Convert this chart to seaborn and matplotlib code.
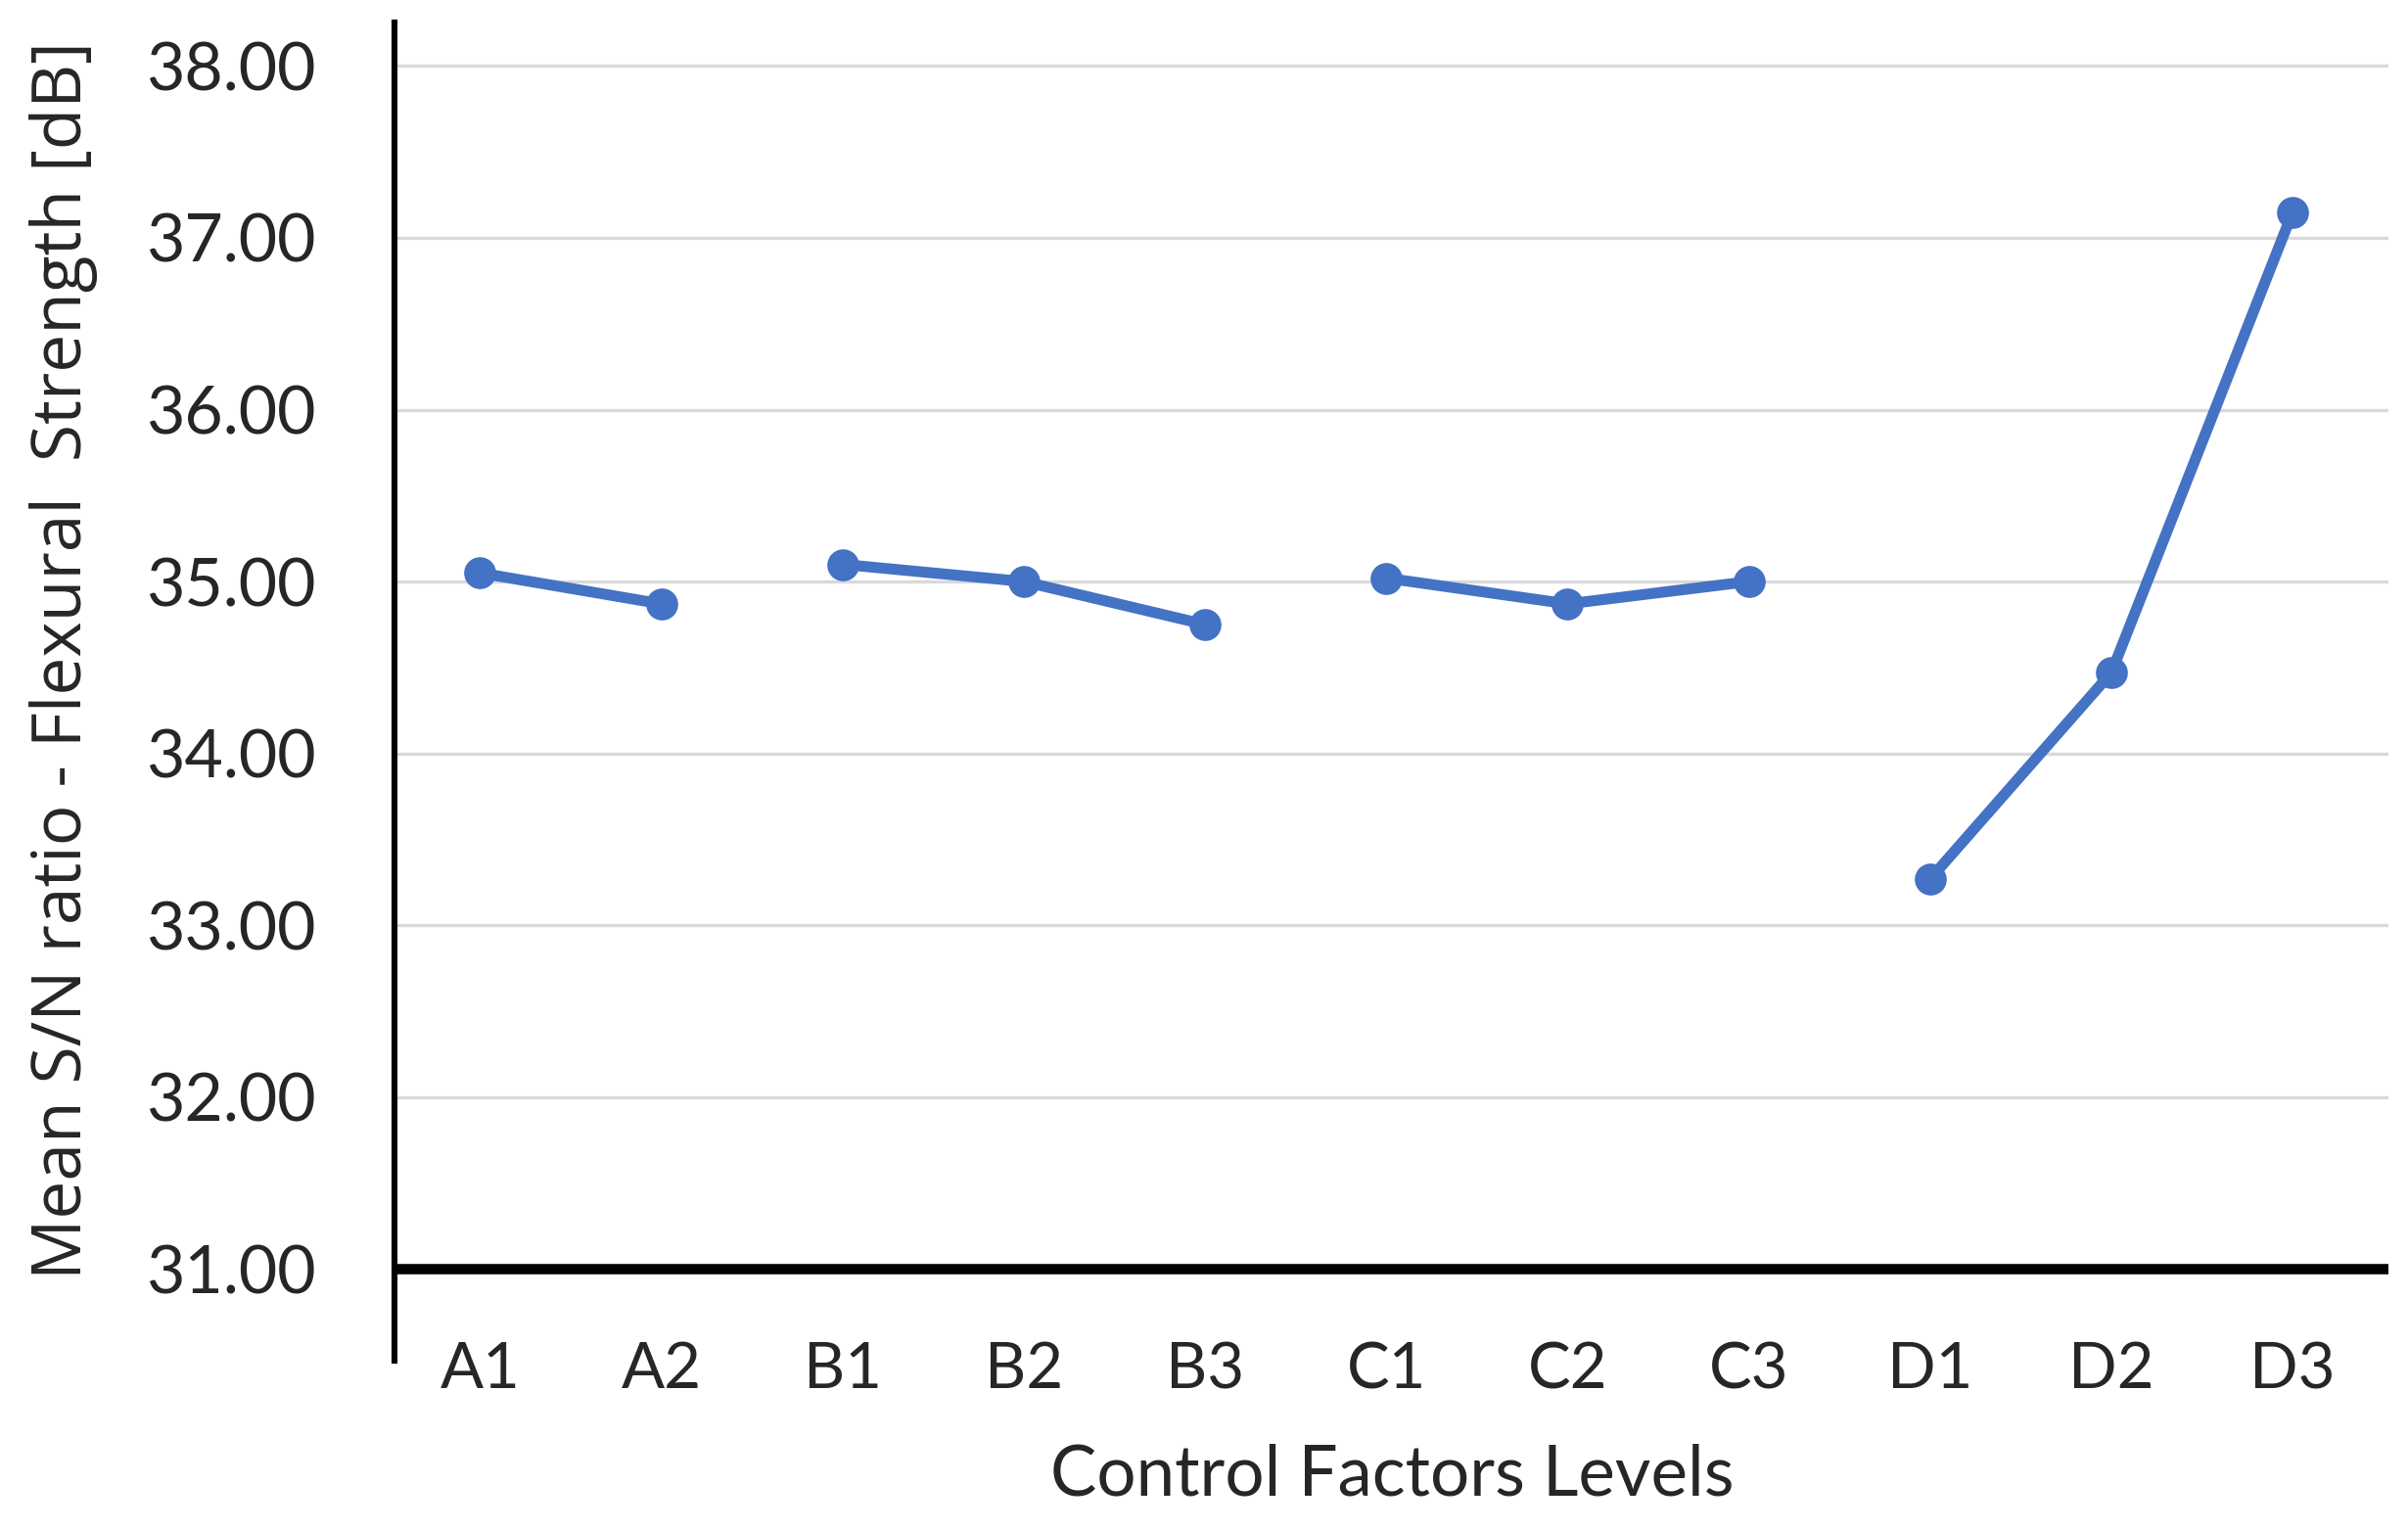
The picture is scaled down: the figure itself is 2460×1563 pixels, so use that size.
import pandas as pd
import seaborn as sns
import matplotlib.pyplot as plt

# Data
levels = ['A1', 'A2', 'B1', 'B2', 'B3', 'C1', 'C2', 'C3', 'D1', 'D2', 'D3']
factors = ['A', 'A', 'B', 'B', 'B', 'C', 'C', 'C', 'D', 'D', 'D']
sn_ratio = [35.05, 34.87, 35.10, 35.00, 34.75, 35.02, 34.87, 35.00, 33.27, 34.47, 37.15]
y_ticks = [31, 32, 33, 34, 35, 36, 37, 38]

df = pd.DataFrame({'level': levels, 'factor': factors, 'sn': sn_ratio})
df['pos'] = range(len(df))

sns.set_style("white")
plt.rcParams['font.family'] = ['Lato', 'DejaVu Sans']

fig = plt.figure(figsize=(12.3, 7.815), dpi=200)
ax = fig.add_axes([0.164, 0.111, 0.828, 0.874])

blue = '#4472C4'
text_col = '#262626'

# light horizontal gridlines
for t in y_ticks[1:]:
    ax.axhline(t, color='#d9d9d9', lw=1.2, zorder=0)

# one line per control factor, no line between factors
sns.lineplot(data=df, x='pos', y='sn', units='factor', estimator=None,
             color=blue, lw=4.0, marker='o', markersize=11,
             markeredgecolor=blue, ax=ax, zorder=3)

# thick horizontal axis at 31
ax.axhline(31, color='black', lw=3.8, zorder=2)

ax.set_xlim(-0.47, 10.53)
ax.set_ylim(30.47, 38.25)
ax.set_yticks(y_ticks)
ax.set_yticklabels([f'{t:.2f}' for t in y_ticks])
ax.set_xticks(df['pos'])
ax.set_xticklabels(levels)

for s in ['top', 'right', 'bottom']:
    ax.spines[s].set_visible(False)
ax.spines['left'].set_color('black')
ax.spines['left'].set_linewidth(2.2)

ax.tick_params(axis='y', length=0, pad=29, labelsize=24.5, labelcolor=text_col)
ax.tick_params(axis='x', length=0, pad=-7, labelsize=23.5, labelcolor=text_col)

ax.set_xlabel('Control Factors Levels', fontsize=25.5, color=text_col)
ax.xaxis.set_label_coords(0.5, -0.062)
ax.set_ylabel('Mean S/N ratio - Flexural  Strength [dB]', fontsize=25,
              color=text_col, family=['Open Sans', 'DejaVu Sans'])
ax.yaxis.set_label_coords(-0.149, 0.523)

fig.savefig('out.png', dpi=200, facecolor='white')
